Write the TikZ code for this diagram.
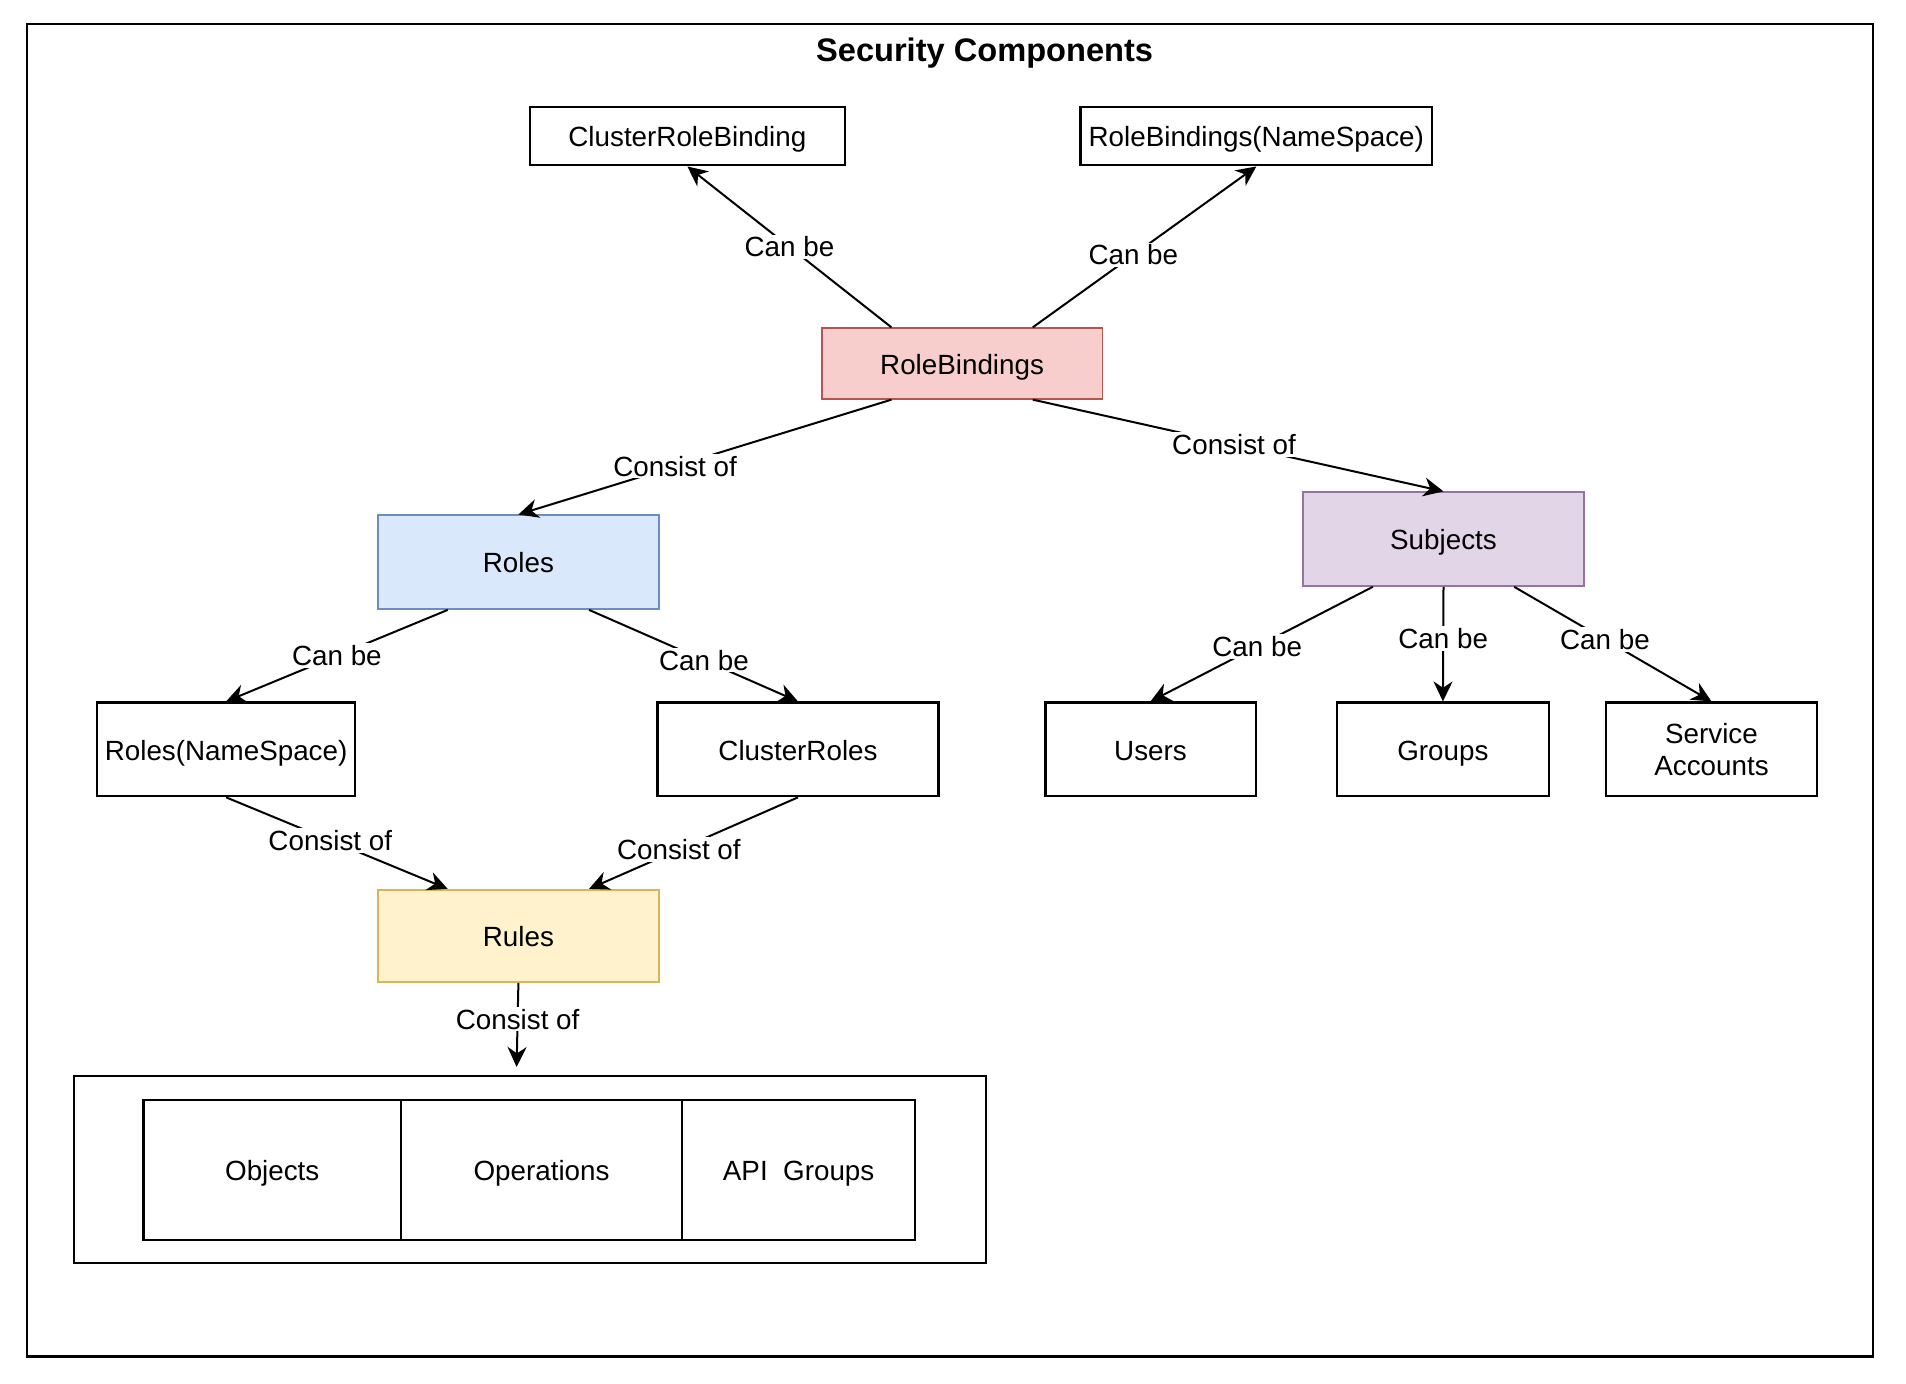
\documentclass[tikz,border=0pt]{standalone}
\usepackage{fontspec}
\setmainfont{Liberation Sans}
\usetikzlibrary{arrows.meta,calc}
\definecolor{rbfill}{HTML}{F8CECC}\definecolor{rbdraw}{HTML}{B85450}
\definecolor{rofill}{HTML}{DAE8FC}\definecolor{rodraw}{HTML}{6C8EBF}
\definecolor{sufill}{HTML}{E1D5E7}\definecolor{sudraw}{HTML}{9673A6}
\definecolor{rufill}{HTML}{FFF2CC}\definecolor{rudraw}{HTML}{D6B656}
\begin{document}
\begin{tikzpicture}[x=0.5pt,y=-0.5pt,
  font=\fontsize{13.9pt}{16pt}\selectfont,
  tx/.style={text height=10.7pt,text depth=0pt},
  box/.style={draw=black,line width=1.15pt,fill=white,inner sep=0pt,align=center,minimum height=46.8pt},
  cbox/.style={line width=0.9pt,inner sep=0pt,align=center,minimum width=140.4pt,minimum height=46.8pt,tx},
  conn/.style={line width=1pt,-{Stealth[length=10pt,width=9.5pt,inset=3.2pt]}},
  lbl/.style={fill=white,inner sep=1pt}]
\useasboundingbox (0,0) rectangle (1906,1384);
\node[draw,line width=1.15pt,minimum width=923.25pt,minimum height=666.15pt,inner sep=0pt] (frame) at (949.95,690.45) {};
\node[font=\fontsize{16.3pt}{18pt}\selectfont\bfseries] (title) at (984.6,53.3) {Security Components};
\node[box,tx,minimum width=157.4pt,minimum height=29.15pt] (crb) at (687.4,136.2) {ClusterRoleBinding};
\node[box,tx,minimum width=175.7pt,minimum height=29.15pt] (rbns) at (1256.3,136.2) {RoleBindings(NameSpace)};
\node[cbox,fill=rbfill,draw=rbdraw,minimum height=35.25pt] (rb) at (962.1,363.5) {RoleBindings};
\node[cbox,fill=rofill,draw=rodraw] (roles) at (518.4,562.2) {Roles};
\node[cbox,fill=sufill,draw=sudraw] (subj) at (1443.5,539.1) {Subjects};
\node[box,tx,minimum width=128.9pt] (rns) at (226.1,749.4) {Roles(NameSpace)};
\node[box,tx,minimum width=140.4pt] (cr) at (798,749.4) {ClusterRoles};
\node[box,tx,minimum width=105.15pt] (users) at (1150.5,749.4) {Users};
\node[box,tx,minimum width=105.8pt] (groups) at (1442.9,749.4) {Groups};
\node[box,minimum width=105.75pt] (sa) at (1711.5,749.4) {Service\\Accounts};
\node[cbox,fill=rufill,draw=rudraw,minimum height=46.2pt] (rules) at (518.4,936) {Rules};
\node[box,minimum width=455.85pt,minimum height=93.6pt] (cont) at (529.95,1169.4) {};
\node[box,tx,minimum width=128.85pt,minimum height=69.95pt] (obj) at (272.25,1170) {Objects};
\node[box,tx,minimum width=140.45pt,minimum height=69.95pt] (ops) at (541.55,1170) {Operations};
\node[box,tx,minimum width=116.65pt,minimum height=69.95pt] (api) at (798.65,1170) {API\ \ Groups};
\coordinate (contin) at (516.6,1067);
% connectors
\draw[conn] ($(rb.north west)!0.25!(rb.north east)$) -- node[lbl,pos=0.5]{Can be} (crb.south);
\draw[conn] ($(rb.north west)!0.75!(rb.north east)$) -- node[lbl,pos=0.45]{Can be} (rbns.south);
\draw[conn] ($(rb.south west)!0.25!(rb.south east)$) -- node[lbl,pos=0.58]{Consist of} (roles.north);
\draw[conn] ($(rb.south west)!0.75!(rb.south east)$) -- node[lbl,pos=0.49]{Consist of} (subj.north);
\draw[conn] ($(roles.south west)!0.25!(roles.south east)$) -- node[lbl,pos=0.5]{Can be} (rns.north);
\draw[conn] ($(roles.south west)!0.75!(roles.south east)$) -- node[lbl,pos=0.55]{Can be} (cr.north);
\draw[conn] (rns.south) -- node[lbl,pos=0.47]{Consist of} ($(rules.north west)!0.25!(rules.north east)$);
\draw[conn] (cr.south) -- node[lbl,pos=0.57]{Consist of} ($(rules.north west)!0.75!(rules.north east)$);
\draw[conn] (rules.south) -- node[lbl,pos=0.43]{Consist of} (contin);
\draw[conn] ($(subj.south west)!0.25!(subj.south east)$) -- node[lbl,pos=0.52]{Can be} (users.north);
\draw[conn] (subj.south) -- node[lbl,pos=0.45]{Can be} (groups.north);
\draw[conn] ($(subj.south west)!0.75!(subj.south east)$) -- node[lbl,pos=0.46]{Can be} (sa.north);
\end{tikzpicture}
\end{document}
